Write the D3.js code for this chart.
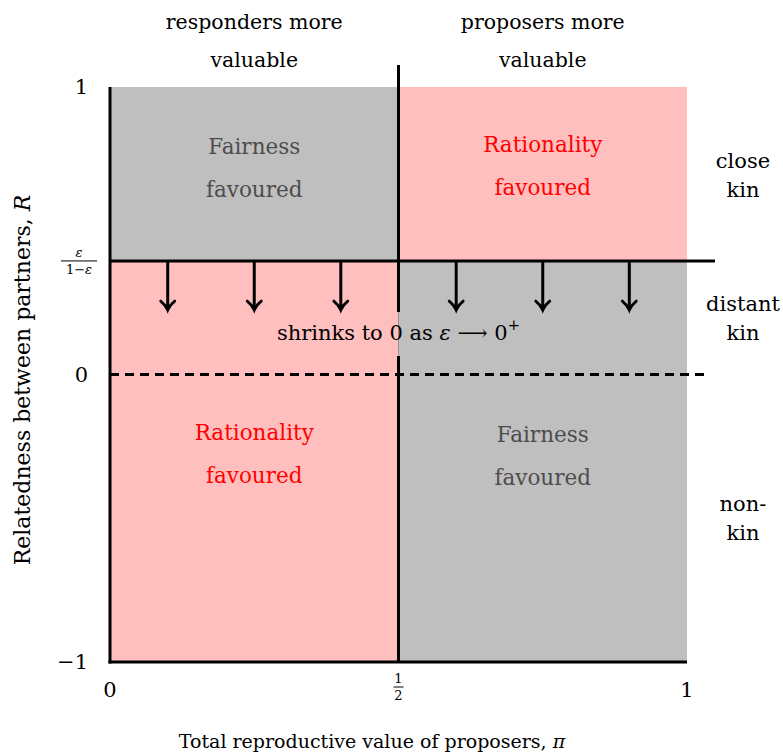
<!DOCTYPE html>
<html>
<head>
<meta charset="utf-8">
<script src="https://cdn.jsdelivr.net/npm/d3@7"></script>
<style>
  body { margin: 0; background: #fff; }
  svg text { font-family: 'DejaVu Serif', serif; }
</style>
</head>
<body>
<div id="chart"></div>
<script>
// Regions of the (pi, R) plane and their labels
const threshold = 0.395;          // R = eps / (1 - eps)
const arrowTip = 0.224;           // where the arrows stop
const arrowPi = [0.1, 0.25, 0.4, 0.6, 0.75, 0.9];
const regions = [
  { x0: 0, x1: 0.5, y0: threshold, y1: 1, fill: '#bfbfbf', label: ['Fairness', 'favoured'], color: '#4d4d4d' },
  { x0: 0.5, x1: 1, y0: threshold, y1: 1, fill: '#ffbfbf', label: ['Rationality', 'favoured'], color: '#ff0000' },
  { x0: 0, x1: 0.5, y0: -1, y1: threshold, fill: '#ffbfbf', label: ['Rationality', 'favoured'], color: '#ff0000' },
  { x0: 0.5, x1: 1, y0: -1, y1: threshold, fill: '#bfbfbf', label: ['Fairness', 'favoured'], color: '#4d4d4d' }
];
const labelR = [0.767, 0.774, -0.228, -0.235];
const topLabels = [
  { pi: 0.25, lines: ['responders more', 'valuable'] },
  { pi: 0.75, lines: ['proposers more', 'valuable'] }
];
const sideLabels = [
  { r: 0.718, lines: ['close', 'kin'] },
  { r: 0.22, lines: ['distant', 'kin'] },
  { r: -0.475, lines: ['non-', 'kin'] }
];

const W = 783, H = 754;
const FS = '21px';
const x = d3.scaleLinear().domain([0, 1]).range([110, 687]);
const y = d3.scaleLinear().domain([-1, 1]).range([662, 87]);

const svg = d3.select('#chart').append('svg').attr('width', W).attr('height', H)
  .style('font-family', "'DejaVu Serif', serif");

// coloured quadrants
svg.selectAll('rect.region').data(regions).enter().append('rect')
  .attr('class', 'region')
  .attr('x', d => x(d.x0)).attr('y', d => y(d.y1))
  .attr('width', d => x(d.x1) - x(d.x0)).attr('height', d => y(d.y0) - y(d.y1))
  .attr('fill', d => d.fill);

// region labels
regions.forEach((d, i) => {
  const cx = x((d.x0 + d.x1) / 2);
  const t = svg.append('text')
    .attr('x', cx).attr('y', y(labelR[i]))
    .attr('text-anchor', 'middle').attr('fill', d.color).style('font-size', '21.5px');
  d.label.forEach((s, j) => t.append('tspan').attr('x', cx).attr('dy', j ? 43 : 0).text(s));
});

// lines
const lw = 3;
svg.append('line').attr('x1', x(0)).attr('x2', x(0)).attr('y1', y(1)).attr('y2', y(-1) + 1.5)
  .attr('stroke', '#000').attr('stroke-width', lw);
svg.append('line').attr('x1', x(0) - 1.5).attr('x2', x(1)).attr('y1', y(-1)).attr('y2', y(-1))
  .attr('stroke', '#000').attr('stroke-width', lw);
svg.append('line').attr('x1', x(0.5)).attr('x2', x(0.5)).attr('y1', 65).attr('y2', y(-1))
  .attr('stroke', '#000').attr('stroke-width', lw);
svg.append('line').attr('x1', x(0)).attr('x2', 715).attr('y1', y(threshold)).attr('y2', y(threshold))
  .attr('stroke', '#000').attr('stroke-width', lw);
svg.append('line').attr('x1', x(0)).attr('x2', 710).attr('y1', y(0)).attr('y2', y(0))
  .attr('stroke', '#000').attr('stroke-width', lw).attr('stroke-dasharray', '9,6');

// arrows
arrowPi.forEach(p => {
  const ax = x(p), ay = y(arrowTip);
  svg.append('line').attr('x1', ax).attr('x2', ax).attr('y1', y(threshold)).attr('y2', ay)
    .attr('stroke', '#000').attr('stroke-width', lw);
  svg.append('path')
    .attr('d', `M${ax - 7},${ay - 9} Q${ax - 2},${ay - 5} ${ax},${ay} Q${ax + 2},${ay - 5} ${ax + 7},${ay - 9}`)
    .attr('fill', 'none').attr('stroke', '#000').attr('stroke-width', 2.8).attr('stroke-linecap', 'round');
});

// gap in the middle line behind the text
svg.append('rect').attr('x', x(0.5) - 3).attr('y', 312).attr('width', 3).attr('height', 44).attr('fill', '#ffbfbf');
svg.append('rect').attr('x', x(0.5)).attr('y', 312).attr('width', 3).attr('height', 44).attr('fill', '#bfbfbf');

const shr = svg.append('text').attr('x', x(0.5)).attr('y', 340).attr('text-anchor', 'middle')
  .attr('fill', '#000').style('font-size', FS);
shr.append('tspan').text('shrinks to 0 as ');
shr.append('tspan').style('font-style', 'italic').text('ε');
shr.append('tspan').text(' ⟶ 0');
shr.append('tspan').attr('dy', -10).style('font-size', '15px').text('+');

// y ticks
const yTicks = [{ v: 1, t: '1' }, { v: 0, t: '0' }, { v: -1, t: '−1' }];
svg.selectAll('text.ytick').data(yTicks).enter().append('text')
  .attr('class', 'ytick').attr('x', 88).attr('y', d => y(d.v) + 7)
  .attr('text-anchor', 'end').style('font-size', FS).text(d => d.t);
// eps / (1 - eps)
const fy = y(threshold);
svg.append('line').attr('x1', 61).attr('x2', 97).attr('y1', fy).attr('y2', fy).attr('stroke', '#000').attr('stroke-width', 1);
svg.append('text').attr('x', 79).attr('y', fy - 4).attr('text-anchor', 'middle')
  .style('font-size', '13px').style('font-style', 'italic').text('ε');
const den = svg.append('text').attr('x', 79).attr('y', fy + 13).attr('text-anchor', 'middle').style('font-size', '13px');
den.append('tspan').text('1−');
den.append('tspan').style('font-style', 'italic').text('ε');

// x ticks
const xTicks = [{ v: 0, t: '0' }, { v: 1, t: '1' }];
svg.selectAll('text.xtick').data(xTicks).enter().append('text')
  .attr('class', 'xtick').attr('x', d => x(d.v)).attr('y', 697)
  .attr('text-anchor', 'middle').style('font-size', FS).text(d => d.t);
const hx = x(0.5);
svg.append('text').attr('x', hx).attr('y', 683).attr('text-anchor', 'middle').style('font-size', '13px').text('1');
svg.append('line').attr('x1', hx - 5).attr('x2', hx + 5).attr('y1', 687).attr('y2', 687).attr('stroke', '#000').attr('stroke-width', 1);
svg.append('text').attr('x', hx).attr('y', 700).attr('text-anchor', 'middle').style('font-size', '13px').text('2');

// top labels
topLabels.forEach(d => {
  const t = svg.append('text').attr('x', x(d.pi)).attr('y', 29).attr('text-anchor', 'middle').style('font-size', '20.5px');
  d.lines.forEach((s, j) => t.append('tspan').attr('x', x(d.pi)).attr('dy', j ? 38 : 0).text(s));
});

// side labels
sideLabels.forEach(d => {
  const t = svg.append('text').attr('x', 743).attr('y', y(d.r)).attr('text-anchor', 'middle').style('font-size', FS);
  d.lines.forEach((s, j) => t.append('tspan').attr('x', 743).attr('dy', j ? 29 : 0).text(s));
});

// axis titles
const xt = svg.append('text').attr('x', 372).attr('y', 748).attr('text-anchor', 'middle').style('font-size', '19px');
xt.append('tspan').text('Total reproductive value of proposers, ');
xt.append('tspan').style('font-style', 'italic').text('π');
const yt = svg.append('text').attr('transform', `translate(30,380) rotate(-90)`).attr('text-anchor', 'middle').style('font-size', '22px');
yt.append('tspan').text('Relatedness between partners, ');
yt.append('tspan').style('font-style', 'italic').text('R');
</script>
</body>
</html>
